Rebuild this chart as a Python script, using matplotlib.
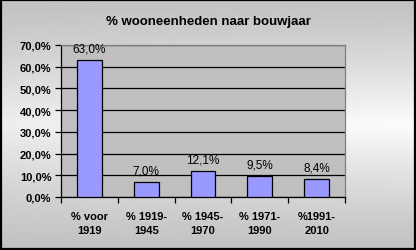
import numpy as np
import matplotlib
matplotlib.use('Agg')
import matplotlib.pyplot as plt
from matplotlib.ticker import FuncFormatter, FixedLocator

categories = ['% voor\n1919', '% 1919-\n1945', '% 1945-\n1970', '% 1971-\n1990', '%1991-\n2010']
values = [63.0, 7.0, 12.1, 9.5, 8.4]
title = '% wooneenheden naar bouwjaar'

plt.rcParams['font.family'] = ['Liberation Sans', 'DejaVu Sans']

W, H = 416, 251
fig = plt.figure(figsize=(W / 100, H / 100), dpi=100)

# background: grey at top and bottom, lighter band in the middle (brightest on the right)
bg = fig.add_axes([0, 0, 1, 1], zorder=-10)
yy = np.linspace(0, 1, 200)[:, None]
xx = np.linspace(0, 1, 200)[None, :]
band = 1 - np.abs(2 * yy - 1)
shade = 0.76 + 0.23 * band ** 1.2 * (0.75 + 0.25 * xx)
bg.imshow(shade, aspect='auto', cmap='gray', vmin=0, vmax=1,
          extent=[0, 1, 0, 1], interpolation='bilinear')
bg.set_xlim(0, 1)
bg.set_ylim(0, 1)
bg.axis('off')
bg.add_patch(plt.Rectangle((0.002, 0.004), 0.995, 0.992, fill=False,
                           edgecolor='black', lw=1.6, transform=bg.transAxes))

left, right, top, bottom = 61, 345, 46, 198
ax = fig.add_axes([left / W, 1 - bottom / H, (right - left) / W, (bottom - top) / H])
ax.set_facecolor('#c0c0c0')

x = np.arange(len(values))
ax.bar(x, values, width=0.44, color='#9999ff', edgecolor='black', lw=0.9, zorder=3)
for xi, v in zip(x, values):
    ax.annotate(('%.1f%%' % v).replace('.', ','), (xi, v), xytext=(0, 4),
                textcoords='offset points', ha='center', va='bottom',
                fontsize=8.5, zorder=4, annotation_clip=False)

ax.set_xlim(-0.5, len(values) - 0.5)
ax.set_ylim(0, 70)
ax.set_yticks(np.arange(0, 71, 10))
ax.yaxis.set_major_formatter(FuncFormatter(lambda v, p: ('%.1f%%' % v).replace('.', ',')))
ax.yaxis.grid(True, color='black', lw=0.9, zorder=0)
ax.set_axisbelow(True)

ax.xaxis.set_major_locator(FixedLocator(np.arange(-0.5, len(values), 1.0)))
ax.xaxis.set_minor_locator(FixedLocator(x))
ax.set_xticklabels([])
ax.set_xticklabels(categories, minor=True, fontweight='bold', fontsize=8, linespacing=1.5)
ax.tick_params(axis='x', which='minor', length=0, pad=10)
ax.tick_params(axis='x', which='major', length=4, direction='out', width=0.9)
ax.tick_params(axis='y', length=4, direction='out', width=0.9, labelsize=8, pad=3)
for lab in ax.get_yticklabels():
    lab.set_fontweight('bold')

for side in ['top', 'right']:
    ax.spines[side].set_color('#808080')
    ax.spines[side].set_linewidth(0.9)
ax.spines['left'].set_linewidth(0.9)
ax.spines['bottom'].set_linewidth(0.9)

fig.text(0.5, 1 - 22 / H, title, ha='center', va='center', fontsize=9.5, fontweight='bold')

fig.savefig('out.png', dpi=100)
